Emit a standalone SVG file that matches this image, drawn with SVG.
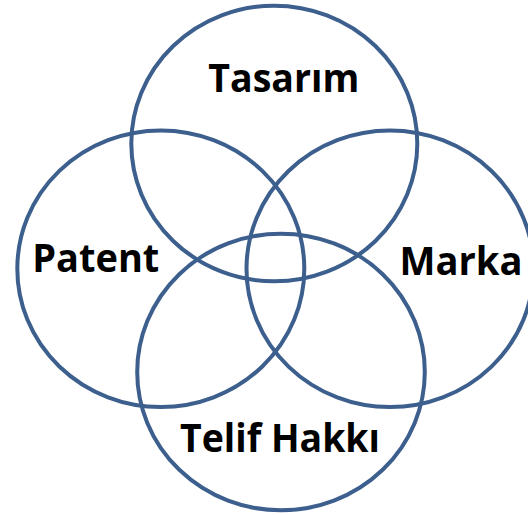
<svg xmlns="http://www.w3.org/2000/svg" width="528" height="515" viewBox="0 0 528 515">
<style>
.c{fill:none;stroke:#3C5F8E;stroke-width:4}
.t{font-family:"Open Sans","Liberation Sans",sans-serif;font-weight:bold;font-size:40px;fill:#000;text-anchor:middle}
</style>
<rect width="528" height="515" fill="#fff"/>
<g id="connectors"></g>
<g id="tasarim"><ellipse class="c" cx="274.3" cy="143.5" rx="143" ry="137.8"/></g>
<g id="patent"><ellipse class="c" cx="160.8" cy="268.7" rx="143.5" ry="138.3"/></g>
<g id="marka"><ellipse class="c" cx="390" cy="268.8" rx="143.5" ry="138.3"/></g>
<g id="telif"><ellipse class="c" cx="281" cy="372" rx="143.8" ry="138.3"/></g>
<g id="labels">
<text class="t" x="283.8" y="91.7" textLength="151" lengthAdjust="spacingAndGlyphs">Tasarım</text>
<text class="t" x="95.8" y="271.7" textLength="127" lengthAdjust="spacingAndGlyphs">Patent</text>
<text class="t" x="461" y="274.5" textLength="123" lengthAdjust="spacingAndGlyphs">Marka</text>
<text class="t" x="280" y="451.8" textLength="200" lengthAdjust="spacingAndGlyphs">Telif Hakkı</text>
</g>
</svg>
